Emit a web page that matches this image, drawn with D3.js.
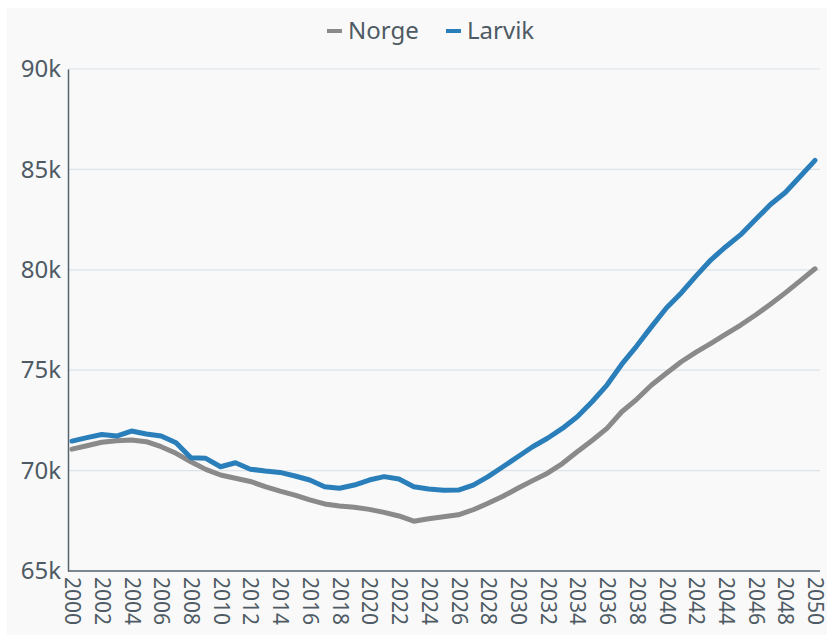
<!DOCTYPE html>
<html>
<head>
<meta charset="utf-8">
<script src="https://cdn.jsdelivr.net/npm/d3@7"></script>
<style>
  body { margin: 0; background: #fff; }
  svg { display: block; font-family: "Noto Sans", sans-serif; }
</style>
</head>
<body>
<div id="chart"></div>
<script>
// Befolkning, Norge (indeksert) og Larvik, 2000-2050
var years = d3.range(2000, 2051);

var norge = [
  71070, 71240, 71410, 71490, 71520, 71440, 71190, 70860, 70440, 70060,
  69780, 69620, 69460, 69200, 68980, 68780, 68540, 68340, 68240, 68170,
  68070, 67920, 67740, 67480, 67600, 67700, 67800, 68050, 68370, 68720,
  69120, 69500, 69870, 70350, 70940, 71500, 72100, 72930, 73550, 74260,
  74850, 75420, 75900, 76340, 76800, 77250, 77750, 78280, 78850, 79450,
  80050
];

var larvik = [
  71470, 71640, 71800, 71720, 71970, 71820, 71720, 71390, 70640, 70610,
  70190, 70390, 70070, 69980, 69910, 69730, 69530, 69200, 69120, 69280,
  69530, 69700, 69580, 69200, 69080, 69020, 69030, 69280, 69700, 70190,
  70690, 71190, 71610, 72100, 72680, 73430, 74260, 75300, 76200, 77170,
  78100, 78850, 79700, 80500, 81150, 81750, 82500, 83250, 83850, 84650,
  85450
];

var seriesNames = ["Norge", "Larvik"];
var seriesColors = ["#8a8a8a", "#2a7fba"];
var yTicks = [65000, 70000, 75000, 80000, 85000, 90000];
var xTicks = d3.range(2000, 2051, 2);

var W = 827, H = 635;
var textColor = "#4e5b64";

var svg = d3.select("#chart").append("svg")
    .attr("width", W)
    .attr("height", H);

// light panel behind the chart
svg.append("rect")
    .attr("x", 7)
    .attr("y", 8)
    .attr("width", W - 7)
    .attr("height", H - 8)
    .attr("fill", "#f9f9f9");

var x = d3.scaleLinear()
    .domain([2000, 2050])
    .range([72, 815]);

var y = d3.scaleLinear()
    .domain([65000, 90000])
    .range([571, 69]);

// gridlines
svg.append("g")
    .selectAll("line")
    .data(yTicks)
    .enter()
    .append("line")
    .attr("x1", 68)
    .attr("x2", 820)
    .attr("y1", function(d) { return y(d); })
    .attr("y2", function(d) { return y(d); })
    .attr("stroke", "#dde3e8")
    .attr("stroke-width", 1.2);

// y axis
var yAxis = d3.axisLeft(y)
    .tickValues(yTicks)
    .tickSize(0)
    .tickPadding(7)
    .tickFormat(function(d) { return (d / 1000) + "k"; });

var gy = svg.append("g")
    .attr("transform", "translate(68,0)")
    .call(yAxis);
gy.select(".domain").attr("stroke", "#56646e").attr("stroke-width", 1.5);
gy.selectAll("text")
    .style("font-size", "24px")
    .style("font-family", "Noto Sans")
    .attr("fill", textColor);

// x axis
var xAxis = d3.axisBottom(x)
    .tickValues(xTicks)
    .tickSize(0)
    .tickFormat(d3.format("d"));

var gx = svg.append("g")
    .attr("transform", "translate(0,571)")
    .call(xAxis);
gx.select(".domain")
    .attr("d", "M68,0H820")
    .attr("stroke", "#56646e")
    .attr("stroke-width", 1.5);
gx.selectAll("text")
    .attr("transform", "rotate(90)")
    .attr("x", 6)
    .attr("y", 0)
    .attr("dy", "0.35em")
    .attr("text-anchor", "start")
    .style("font-size", "21px")
    .style("font-family", "Noto Sans")
    .attr("fill", textColor);

// lines
var line = d3.line()
    .x(function(d, i) { return x(years[i]); })
    .y(function(d) { return y(d); });

[norge, larvik].forEach(function(data, k) {
    svg.append("path")
        .datum(data)
        .attr("d", line)
        .attr("fill", "none")
        .attr("stroke", seriesColors[k])
        .attr("stroke-width", 5)
        .attr("stroke-linejoin", "round")
        .attr("stroke-linecap", "round");
});

// legend
var legend = svg.append("g").attr("transform", "translate(0,31)");
var legendX = [327, 446];
seriesNames.forEach(function(name, k) {
    legend.append("line")
        .attr("x1", legendX[k])
        .attr("x2", legendX[k] + 15)
        .attr("y1", 0)
        .attr("y2", 0)
        .attr("stroke", seriesColors[k])
        .attr("stroke-width", 4);
    legend.append("text")
        .attr("x", legendX[k] + 21)
        .attr("y", 0)
        .attr("dy", "0.35em")
        .style("font-size", "24px")
        .attr("fill", textColor)
        .text(name);
});
</script>
</body>
</html>
